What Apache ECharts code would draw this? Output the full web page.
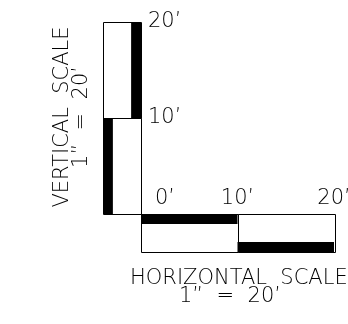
<!DOCTYPE html>
<html>
<head>
<meta charset="utf-8">
<script src="https://cdn.jsdelivr.net/npm/echarts@6/dist/echarts.min.js"></script>
<style>
	html, body { margin: 0; padding: 0; background: #fff; }
	#chart { width: 348px; height: 324px; }
</style>
</head>
<body>
<div id="chart"></div>
<script>
	// 刻度数据
	const ticks = [0, 10, 20];
	const tickLabels = ["0’", "10’", "20’"];
	// 分段（英尺）
	const segStart = [0, 10];
	const segEnd = [10, 20];
	// 黑色条所在边：竖向 0=左 1=右；横向 1=上 0=下
	const vBandSide = [0, 1];
	const hBandSide = [1, 0];
	const bandFrac = 0.26;
	// 标题文字
	const vTitle = "VERTICAL  SCALE";
	const hTitle = "HORIZONTAL  SCALE";
	const scaleText = "1”  =  20’";

	const FAMILY = "'DejaVu Sans', sans-serif";
	const SIZE = 21;
	const FONT = "200 " + SIZE + "px " + FAMILY;
	const crisp = (v) => Math.round(v) + 0.5;

	const chart = echarts.init(document.getElementById("chart"));

	const labelOf = (v) => tickLabels[ticks.indexOf(v)] || "";

	// 竖向比例尺每段
	function renderVertical(params, api) {
		const a = api.value(0), b = api.value(1), side = api.value(2);
		const p0 = api.coord([0, b]);
		const p1 = api.coord([1, a]);
		const bx = side ? 1 - bandFrac : 0;
		const q0 = api.coord([bx, b]);
		const q1 = api.coord([bx + bandFrac, a]);
		return {
			type: "group",
			children: [
				{ type: "rect", shape: { x: q0[0], y: q0[1], width: q1[0] - q0[0], height: q1[1] - q0[1] }, style: { fill: "#000" } },
				{ type: "rect", shape: { x: crisp(p0[0]), y: crisp(p0[1]), width: Math.round(p1[0] - p0[0]), height: Math.round(p1[1] - p0[1]) }, style: { fill: null, stroke: "#000", lineWidth: 1 } }
			]
		};
	}

	// 横向比例尺每段
	function renderHorizontal(params, api) {
		const a = api.value(0), b = api.value(1), side = api.value(2);
		const p0 = api.coord([a, 1]);
		const p1 = api.coord([b, 0]);
		const by = side ? 1 - bandFrac : 0;
		const q0 = api.coord([a, by + bandFrac]);
		const q1 = api.coord([b, by]);
		return {
			type: "group",
			children: [
				{ type: "rect", shape: { x: q0[0], y: q0[1], width: q1[0] - q0[0], height: q1[1] - q0[1] }, style: { fill: "#000" } },
				{ type: "rect", shape: { x: crisp(p0[0]), y: crisp(p0[1]), width: Math.round(p1[0] - p0[0]), height: Math.round(p1[1] - p0[1]) }, style: { fill: null, stroke: "#000", lineWidth: 1 } }
			]
		};
	}

	const labelStyle = { color: "#000", fontSize: SIZE, fontWeight: 200, fontFamily: FAMILY };

	const option = {
		animation: false,
		grid: [
			{ left: 103, top: 22, width: 38, height: 192, outerBoundsMode: "none", containLabel: false },
			{ left: 141, top: 214, width: 193, height: 38, outerBoundsMode: "none", containLabel: false }
		],
		xAxis: [
			{ gridIndex: 0, type: "value", min: 0, max: 1, show: false },
			{
				gridIndex: 1, type: "value", min: 0, max: 20, interval: 10, position: "top",
				axisLine: { show: false }, axisTick: { show: false }, splitLine: { show: false },
				axisLabel: Object.assign({
					margin: 5, showMinLabel: true, showMaxLabel: true, alignMinLabel: "left",
					formatter: (v) => v === 0 ? "{z|" + labelOf(v) + "}" : labelOf(v),
					rich: { z: Object.assign({ padding: [0, 0, 0, 14] }, labelStyle) }
				}, labelStyle)
			}
		],
		yAxis: [
			{
				gridIndex: 0, type: "value", min: 0, max: 20, interval: 10, position: "right",
				axisLine: { show: false }, axisTick: { show: false }, splitLine: { show: false },
				axisLabel: Object.assign({
					margin: 7, showMaxLabel: true,
					formatter: (v) => v === 0 ? "" : labelOf(v)
				}, labelStyle)
			},
			{ gridIndex: 1, type: "value", min: 0, max: 1, show: false }
		],
		series: [
			{
				type: "custom", xAxisIndex: 0, yAxisIndex: 0, renderItem: renderVertical,
				data: segStart.map((s, i) => [s, segEnd[i], vBandSide[i]])
			},
			{
				type: "custom", xAxisIndex: 1, yAxisIndex: 1, renderItem: renderHorizontal,
				data: segStart.map((s, i) => [s, segEnd[i], hBandSide[i]])
			}
		],
		graphic: [
			{ type: "text", x: 63, y: 117, rotation: Math.PI / 2, style: { text: vTitle, font: FONT, fill: "#000", align: "center", verticalAlign: "middle" } },
			{ type: "text", x: 82, y: 117, rotation: Math.PI / 2, style: { text: scaleText, font: FONT, fill: "#000", align: "center", verticalAlign: "middle" } },
			{ type: "text", x: 130, y: 279, style: { text: hTitle, font: FONT, fill: "#000", align: "left", verticalAlign: "middle" } },
			{ type: "text", x: 179, y: 297, style: { text: scaleText, font: FONT, fill: "#000", align: "left", verticalAlign: "middle" } }
		]
	};

	chart.setOption(option);
	window.addEventListener("resize", () => chart.resize());
</script>
</body>
</html>
